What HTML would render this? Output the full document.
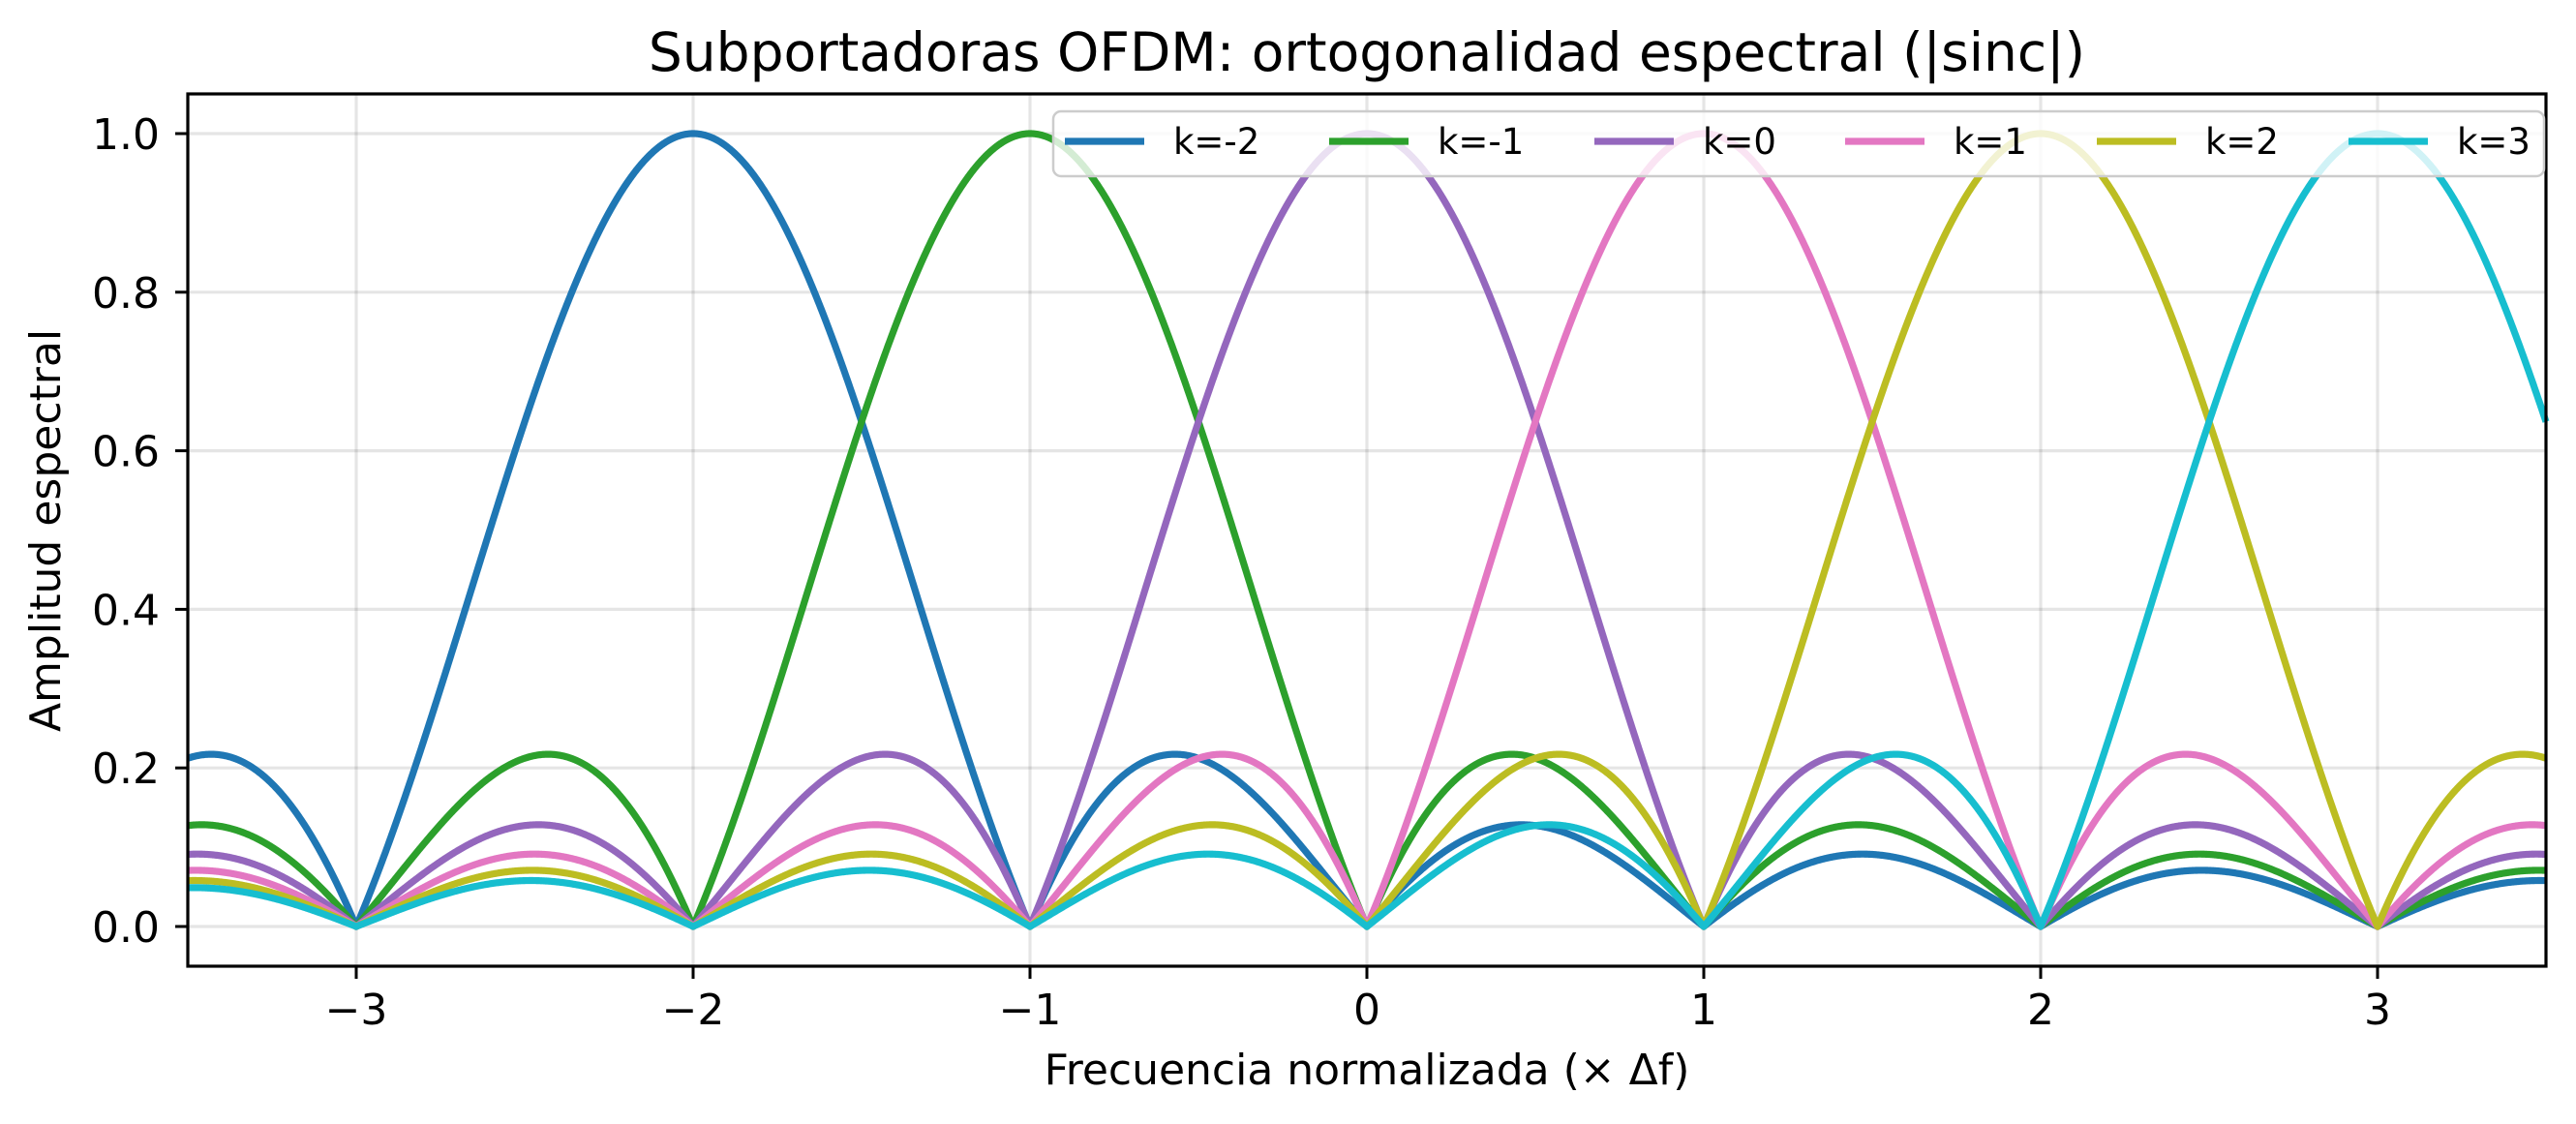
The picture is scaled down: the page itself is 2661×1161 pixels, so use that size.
<!DOCTYPE html>
<html><head><meta charset="utf-8"><style>
html,body{margin:0;padding:0;background:#fff;}
svg{display:block;font-family:"DejaVu Sans","Liberation Sans",sans-serif;}
</style></head><body>
<svg id="s" width="2661" height="1161" viewBox="0 0 2661 1161" xmlns="http://www.w3.org/2000/svg">
<rect width="2661" height="1161" fill="#fff"/>
<g id="grid" stroke="#000" stroke-opacity="0.1" stroke-width="3.2"></g>
<g id="curves" fill="none" stroke-width="7.2" stroke-linejoin="round"></g>
<g id="axes"></g>
<text x="1412" y="73" font-size="55" text-anchor="middle">Subportadoras OFDM: ortogonalidad espectral (|sinc|)</text>
<text x="1412" y="1120" font-size="44" text-anchor="middle">Frecuencia normalizada (× Δf)</text>
<text transform="translate(62,548) rotate(-90)" font-size="44" text-anchor="middle">Amplitud espectral</text>
<g id="legend"></g>
</svg>
<script>
var L=194,R=2630,T=97,B=998,x0=1412,ux=348,y0=957,uy=819;
function X(v){return x0+v*ux;} function Y(v){return y0-v*uy;}
var ns="http://www.w3.org/2000/svg";
function el(p,t,a,txt){var e=document.createElementNS(ns,t);for(var k in a)e.setAttribute(k,a[k]);if(txt!=null)e.textContent=txt;p.appendChild(e);return e;}
var g=document.getElementById('grid'),ax=document.getElementById('axes'),cv=document.getElementById('curves'),lg=document.getElementById('legend');
for(var i=-3;i<=3;i++){el(g,'line',{x1:X(i),x2:X(i),y1:T,y2:B});
 el(ax,'line',{x1:X(i),x2:X(i),y1:B,y2:B+13,stroke:'#000','stroke-width':3});
 el(ax,'text',{x:X(i),y:1058,'font-size':44,'text-anchor':'middle'},(i<0?'\u2212'+(-i):''+i));}
for(var j=0;j<=5;j++){var v=j*0.2;el(g,'line',{x1:L,x2:R,y1:Y(v),y2:Y(v)});
 el(ax,'line',{x1:L-13,x2:L,y1:Y(v),y2:Y(v),stroke:'#000','stroke-width':3});
 el(ax,'text',{x:165,y:Y(v)+16,'font-size':44,'text-anchor':'end'},v.toFixed(1));}
var cols=['#1f77b4','#2ca02c','#9467bd','#e377c2','#bcbd22','#17becf'];
for(var k=-2;k<=3;k++){var d='';for(var n=0;n<=2800;n++){var x=-3.5+7*n/2800,t=x-k,s=Math.abs(t)<1e-9?1:Math.abs(Math.sin(Math.PI*t)/(Math.PI*t));d+=(n?'L':'M')+X(x).toFixed(2)+' '+Y(s).toFixed(2);}
 el(cv,'path',{d:d,stroke:cols[k+2]});}
el(ax,'rect',{x:L,y:T,width:R-L,height:B-T,fill:'none',stroke:'#000','stroke-width':3.2});
el(lg,'rect',{x:1088,y:115,width:1540,height:67,rx:8,fill:'#fff','fill-opacity':0.8,stroke:'#ccc','stroke-width':2.5});
var labs=['k=-2','k=-1','k=0','k=1','k=2','k=3'],xs=[1100,1373,1647,1906,2166,2426];
for(var m=0;m<6;m++){el(lg,'line',{x1:xs[m],x2:xs[m]+82,y1:146,y2:146,stroke:cols[m],'stroke-width':7.2});
 el(lg,'text',{x:xs[m]+112,y:159,'font-size':37},labs[m]);}
</script>
</body></html>
